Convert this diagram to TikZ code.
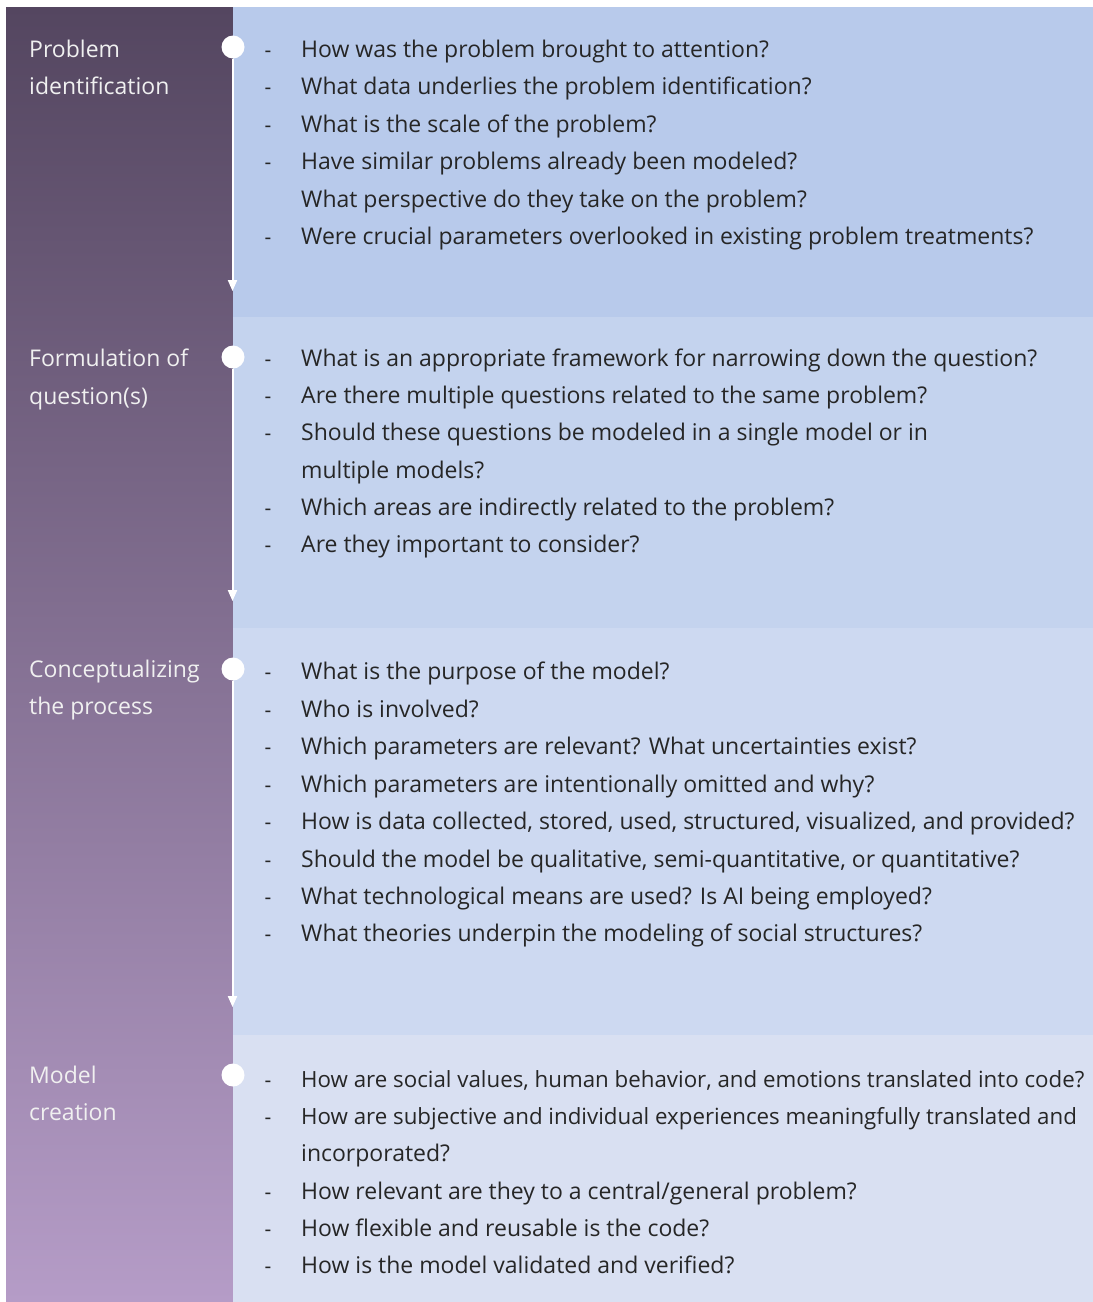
\documentclass[tikz,border=0pt]{standalone}
\usepackage{fontspec}
\setmainfont{Open Sans}
\usetikzlibrary{arrows.meta}
\definecolor{bartop}{HTML}{544660}
\definecolor{barbot}{HTML}{B59CC7}
\definecolor{panA}{HTML}{B8CAEB}
\definecolor{panB}{HTML}{C4D3EE}
\definecolor{panC}{HTML}{CDD9F1}
\definecolor{panD}{HTML}{D9E0F2}
\definecolor{qtext}{HTML}{262626}
\tikzset{
  stage/.style={anchor=base west, inner sep=0pt, text=white!94!black,
    font=\fontsize{23}{27}\selectfont},
  question/.style={anchor=base west, inner sep=0pt, text=qtext,
    font=\fontsize{23}{27}\selectfont},
  longquestion/.style={question, font=\fontsize{22.3}{27}\selectfont},
  bullet/.style={anchor=base, inner sep=0pt, text=qtext,
    font=\fontsize{21}{25}\selectfont},
  dot/.style={circle, fill=white, minimum size=23pt, inner sep=0pt},
  flow/.style={draw=white, line width=2pt,
    -{Triangle[width=9pt,length=11pt]}},
}
\begin{document}
\begin{tikzpicture}[x=1pt,y=-1pt]
\clip (0,0) rectangle (1093,1302);
\fill[white] (0,0) rectangle (1093,1302);
% stage bar
\shade[top color=bartop, bottom color=barbot] (6,7) rectangle (233,1302);
% question panels
\fill[panA] (233,7) rectangle (1093,317);
\fill[panB] (233,317) rectangle (1093,628);
\fill[panC] (233,628) rectangle (1093,1035);
\fill[panD] (233,1035) rectangle (1093,1302);

% stage labels
\node[stage] (s1a) at (29,57) {Problem};
\node[stage] (s1b) at (29,94) {identification};
\node[stage] (s2a) at (29,366) {Formulation of};
\node[stage] (s2b) at (29,404) {question(s)};
\node[stage] (s3a) at (29,677) {Conceptualizing};
\node[stage] (s3b) at (29,714) {the process};
\node[stage] (s4a) at (29,1083) {Model};
\node[stage] (s4b) at (29,1120) {creation};

% timeline
\node[dot] (c1) at (233,47) {};
\node[dot] (c2) at (233,357) {};
\node[dot] (c3) at (233,669) {};
\node[dot] (c4) at (233,1075) {};
\coordinate (e1) at (232.5,291);
\coordinate (e2) at (232.5,601);
\coordinate (e3) at (232.5,1007);
\draw[flow] (c1.south -| e1) -- (e1);
\draw[flow] (c2.south -| e2) -- (e2);
\draw[flow] (c3.south -| e3) -- (e3);

% questions: problem identification
\foreach \y/\t [count=\i] in {
  57/How was the problem brought to attention?,
  94/What data underlies the problem identification?,
  132/What is the scale of the problem?,
  169/Have similar problems already been modeled?,
  244/Were crucial parameters overlooked in existing problem treatments?}
  {\node[bullet] (d1\i) at (268,\y) {-};
   \node[question] (q1\i) at (301,\y) {\t};}
\node[question] (q1x) at (301,207) {What perspective do they take on the problem?};

% questions: formulation of question(s)
\foreach \y/\t [count=\i] in {
  366/What is an appropriate framework for narrowing down the question?,
  403/Are there multiple questions related to the same problem?,
  440/Should these questions be modeled in a single model or in,
  515/Which areas are indirectly related to the problem?,
  552/Are they important to consider?}
  {\node[bullet] (d2\i) at (268,\y) {-};
   \node[question] (q2\i) at (301,\y) {\t};}
\node[question] (q2x) at (301,478) {multiple models?};

% questions: conceptualizing the process
\foreach \y/\t [count=\i] in {
  679/What is the purpose of the model?,
  717/Who is involved?,
  754/Which parameters are relevant? What uncertainties exist?,
  792/Which parameters are intentionally omitted and why?,
  829/{How is data collected, stored, used, structured, visualized, and provided?},
  867/{Should the model be qualitative, semi-quantitative, or quantitative?},
  904/What technological means are used? Is AI being employed?,
  941/What theories underpin the modeling of social structures?}
  {\node[bullet] (d3\i) at (268,\y) {-};
   \node[question] (q3\i) at (301,\y) {\t};}

% questions: model creation
\node[bullet] (d41) at (268,1087) {-};
\node[longquestion] (q41) at (301,1087)
  {How are social values, human behavior, and emotions translated into code?};
\node[bullet] (d42) at (268,1124) {-};
\node[longquestion] (q42) at (301,1124)
  {How are subjective and individual experiences meaningfully translated and};
\node[question] (q4x) at (301,1161) {incorporated?};
\foreach \y/\t [count=\i from 3] in {
  1199/{How relevant are they to a central/general problem?},
  1236/{How flexible and reusable is the code?},
  1273/{How is the model validated and verified?}}
  {\node[bullet] (d4\i) at (268,\y) {-};
   \node[question] (q4\i) at (301,\y) {\t};}
\end{tikzpicture}
\end{document}
